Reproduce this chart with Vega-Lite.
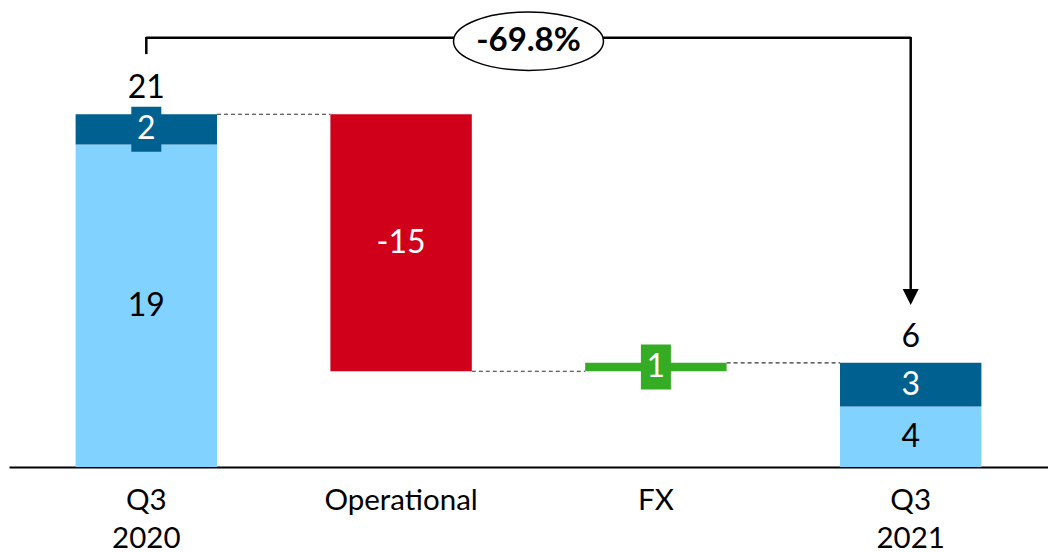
{
  "$schema": "https://vega.github.io/schema/vega-lite/v6.json",
  "width": 1039,
  "height": 467,
  "autosize": {"type": "none"},
  "padding": {"left": 9, "top": 0, "right": 0, "bottom": 85},
  "background": "white",
  "config": {
    "view": {"stroke": null},
    "font": "Lato",
    "axisX": {
      "title": null,
      "domainColor": "black",
      "domainWidth": 2,
      "domainOpacity": 1,
      "ticks": false,
      "tickSize": 0,
      "grid": false,
      "labelAngle": 0,
      "labelFont": "Lato",
      "labelFontSize": 29.5,
      "labelColor": "black",
      "labelPadding": 19,
      "labelLineHeight": 38,
      "labelBaseline": "top",
      "labelExpr": "split(datum.label, ' ')"
    }
  },
  "datasets": {
    "segments": [
      {"cat": "Q3 2020", "seg": "base", "start": 0, "end": 19.2, "label": "19"},
      {"cat": "Q3 2020", "seg": "top", "start": 19.2, "end": 21.0, "label": "2"},
      {"cat": "Operational", "seg": "decrease", "start": 21.0, "end": 5.7, "label": "-15"},
      {"cat": "FX", "seg": "increase", "start": 5.7, "end": 6.2, "label": "1"},
      {"cat": "Q3 2021", "seg": "base", "start": 0, "end": 3.6, "label": "4"},
      {"cat": "Q3 2021", "seg": "top", "start": 3.6, "end": 6.2, "label": "3"}
    ],
    "totals": [
      {"cat": "Q3 2020", "total": 21.0, "label": "21"},
      {"cat": "Q3 2021", "total": 6.2, "label": "6"}
    ],
    "steps": [
      {"cat": "Q3 2020", "to": "Operational", "level": 21.0},
      {"cat": "Operational", "to": "FX", "level": 5.7},
      {"cat": "FX", "to": "Q3 2021", "level": 6.2}
    ],
    "bracket": [
      {"cat": "Q3 2020", "to": "Q3 2021", "change": "-69.8%"}
    ]
  },
  "encoding": {
    "x": {
      "field": "cat",
      "type": "nominal",
      "title": null,
      "scale": {
        "domain": ["Q3 2020", "Operational", "FX", "Q3 2021"],
        "paddingInner": 0.445,
        "paddingOuter": 0.2614
      }
    }
  },
  "layer": [
    {
      "data": {"name": "steps"},
      "mark": {"type": "rule", "color": "#333333", "strokeWidth": 1.2, "strokeDash": [4, 3], "xOffset": 70.7, "x2Offset": -70.7},
      "encoding": {
        "x2": {"field": "to"},
        "y": {"field": "level", "type": "quantitative", "scale": {"domain": [0, 27.8], "nice": false, "zero": true}, "axis": null}
      }
    },
    {
      "data": {"name": "segments"},
      "mark": {"type": "bar"},
      "encoding": {
        "y": {"field": "start", "type": "quantitative", "scale": {"domain": [0, 27.8], "nice": false}, "axis": null},
        "y2": {"field": "end"},
        "color": {
          "field": "seg",
          "type": "nominal",
          "scale": {"domain": ["base", "top", "decrease", "increase"], "range": ["#82D2FF", "#00608F", "#D0001B", "#34AC24"]},
          "legend": null
        }
      }
    },
    {
      "data": {"name": "segments"},
      "transform": [
        {"filter": "abs(datum.end - datum.start) < 2"},
        {"fold": ["start", "end"], "as": ["edge", "value"]}
      ],
      "mark": {"type": "point", "filled": true, "opacity": 1, "shape": "M -0.667 -1 L 0.667 -1 L 0.667 1 L -0.667 1 Z", "size": 2025},
      "encoding": {
        "y": {"aggregate": "mean", "field": "value", "type": "quantitative", "axis": null},
        "color": {"field": "seg", "type": "nominal", "legend": null}
      }
    },
    {
      "data": {"name": "segments"},
      "transform": [
        {"fold": ["start", "end"], "as": ["edge", "value"]}
      ],
      "mark": {"type": "text", "fontSize": 32, "baseline": "middle", "align": "center", "font": "Lato"},
      "encoding": {
        "y": {"aggregate": "mean", "field": "value", "type": "quantitative", "axis": null},
        "text": {"field": "label", "type": "nominal"},
        "detail": {"field": "seg", "type": "nominal"},
        "color": {"condition": {"test": "datum.seg === 'base'", "value": "black"}, "value": "white"}
      }
    },
    {
      "data": {"name": "totals"},
      "mark": {"type": "text", "fontSize": 32, "baseline": "alphabetic", "align": "center", "dy": -16, "color": "black", "font": "Lato"},
      "encoding": {
        "y": {"field": "total", "type": "quantitative", "axis": null},
        "text": {"field": "label", "type": "nominal"}
      }
    },
    {
      "data": {"name": "bracket"},
      "mark": {"type": "rule", "color": "black", "strokeWidth": 2.5},
      "encoding": {
        "x2": {"field": "to"},
        "y": {"datum": 25.55, "type": "quantitative", "axis": null}
      }
    },
    {
      "data": {"name": "bracket"},
      "mark": {"type": "rule", "color": "black", "strokeWidth": 2.5},
      "encoding": {
        "y": {"datum": 25.6, "type": "quantitative", "axis": null},
        "y2": {"datum": 24.58}
      }
    },
    {
      "data": {"name": "bracket"},
      "mark": {"type": "rule", "color": "black", "strokeWidth": 2.5},
      "encoding": {
        "x": {"field": "to", "type": "nominal", "title": null},
        "y": {"datum": 25.6, "type": "quantitative", "axis": null},
        "y2": {"datum": 10.6}
      }
    },
    {
      "data": {"name": "bracket"},
      "mark": {"type": "point", "filled": true, "opacity": 1, "color": "black", "shape": "M -1 -1 L 1 -1 L 0 1 Z", "size": 256},
      "encoding": {
        "x": {"field": "to", "type": "nominal", "title": null},
        "y": {"datum": 10.12, "type": "quantitative", "axis": null}
      }
    },
    {
      "data": {"name": "bracket"},
      "mark": {"type": "point", "filled": true, "opacity": 1, "fill": "white", "stroke": "black", "strokeWidth": 1.5, "xOffset": 127.4, "shape": "M -1 0 C -1 -0.215 -0.552 -0.39 0 -0.39 C 0.552 -0.39 1 -0.215 1 0 C 1 0.215 0.552 0.39 0 0.39 C -0.552 0.39 -1 0.215 -1 0 Z", "size": 22500},
      "encoding": {
        "x": {"datum": "Operational", "type": "nominal", "title": null},
        "y": {"datum": 25.35, "type": "quantitative", "axis": null}
      }
    },
    {
      "data": {"name": "bracket"},
      "mark": {"type": "text", "fontSize": 33, "fontWeight": "bold", "baseline": "middle", "align": "center", "xOffset": 127.4, "color": "black", "font": "Lato"},
      "encoding": {
        "x": {"datum": "Operational", "type": "nominal", "title": null},
        "y": {"datum": 25.35, "type": "quantitative", "axis": null},
        "text": {"field": "change", "type": "nominal"}
      }
    }
  ]
}
